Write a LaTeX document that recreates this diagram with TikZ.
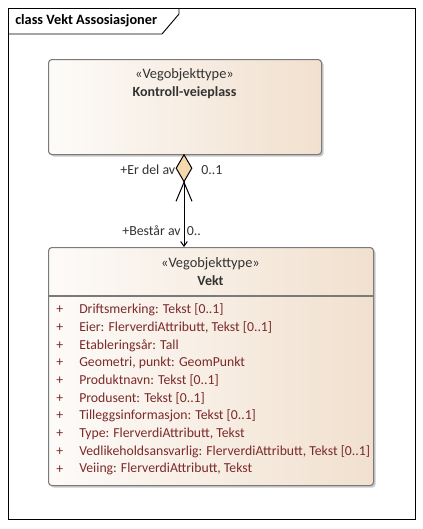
\documentclass[tikz,border=0pt]{standalone}
\usepackage{fontspec}
\setmainfont{Carlito}
\usetikzlibrary{shapes.geometric,shadows,arrows.meta,calc}
\definecolor{boxline}{HTML}{7A7A7A}
\definecolor{boxleft}{HTML}{FDFBF9}
\definecolor{boxright}{HTML}{F1E0CE}
\definecolor{attrcol}{HTML}{7B2A2A}
\definecolor{txtcol}{HTML}{333333}
\definecolor{diafill}{HTML}{F6D9AE}
\tikzset{
  umlbox/.style={draw=boxline, line width=0.8pt, rounded corners=2.5pt,
    left color=boxleft, right color=boxright, shading angle=90,
    drop shadow={shadow xshift=1.5pt, shadow yshift=-1.5pt, fill=black!35, opacity=0.6},
    anchor=north west, inner sep=0pt},
  stereo/.style={font=\fontsize{10.8}{12}\selectfont, text=txtcol},
  cname/.style={font=\fontsize{10.5}{12}\selectfont\bfseries, text=txtcol},
  attr/.style={font=\fontsize{10.3}{12}\selectfont, text=attrcol, anchor=west, inner sep=0pt},
  lbl/.style={font=\fontsize{10.4}{12}\selectfont, text=txtcol, inner sep=0pt},
  conn/.style={line width=0.75pt, draw=black}
}
\begin{document}
\begin{tikzpicture}[x=0.75pt,y=-0.75pt]
\useasboundingbox (0,0) rectangle (422,529);
\fill[white] (0,0) rectangle (422,529);
% frame
\node[draw=black, line width=0.7pt, minimum width=305.25pt, minimum height=383.25pt, anchor=north west, inner sep=0pt] (frame) at (8,8) {};
\draw[line width=0.7pt] (8,34) -- (162,34) -- (179,14) -- (179,8);
\node[font=\fontsize{10.7}{12}\selectfont\bfseries, anchor=west, inner sep=0pt] (title) at (15,21) {class Vekt Assosiasjoner};
% boxes
\node[umlbox, minimum width=204.75pt, minimum height=71.25pt] (kv) at (48,59) {};
\node[stereo] (kvst) at (184.5,75) {«Vegobjekttype»};
\node[cname] (kvnm) at (184.5,93) {Kontroll-veieplass};

\node[umlbox, minimum width=243.75pt, minimum height=178.5pt] (vk) at (48,247) {};
\node[stereo] (vkst) at (210.5,264) {«Vegobjekttype»};
\node[cname] (vknm) at (210.5,281) {Vekt};
\draw[boxline, line width=0.8pt] (vk.west |- 0,296) coordinate (sepl) -- (vk.east |- 0,296) coordinate (sepr);

\foreach \i/\t in {0/{Driftsmerking: Tekst [0..1]},
                   1/{Eier: FlerverdiAttributt, Tekst [0..1]},
                   2/{Etableringsår: Tall},
                   3/{Geometri, punkt: GeomPunkt},
                   4/{Produktnavn: Tekst [0..1]},
                   5/{Produsent: Tekst [0..1]},
                   6/{Tilleggsinformasjon: Tekst [0..1]},
                   7/{Type: FlerverdiAttributt, Tekst},
                   8/{Vedlikeholdsansvarlig: FlerverdiAttributt, Tekst [0..1]},
                   9/{Veiing: FlerverdiAttributt, Tekst}} {
  \node[attr] (plus\i) at (56,310+17.7*\i) {+};
  \node[attr] (at\i) at (79,310+17.7*\i) {\t};
}
% aggregation
\node[diamond, draw=black, line width=0.75pt, fill=diafill, minimum width=12pt, minimum height=20.5pt, inner sep=0pt, anchor=north] (dia) at (184,154) {};
\coordinate (vktop) at (dia.south |- vk.north);
\draw[conn, -{Straight Barb[length=3.5pt,width=5pt]}] (dia.south) -- (vktop);
\draw[conn] ($(dia.south)+(-8,19)$) -- (dia.south) -- ($(dia.south)+(8,19)$);
\node[lbl, anchor=east] (erdel) at (175.5,170) {+Er del av};
\node[lbl, anchor=west] (m1) at (201,170) {0..1};
\node[lbl, anchor=east] (best) at (181,231) {+Består av};
\node[lbl, anchor=west] (m2) at (186.5,231) {0..};
\end{tikzpicture}
\end{document}
